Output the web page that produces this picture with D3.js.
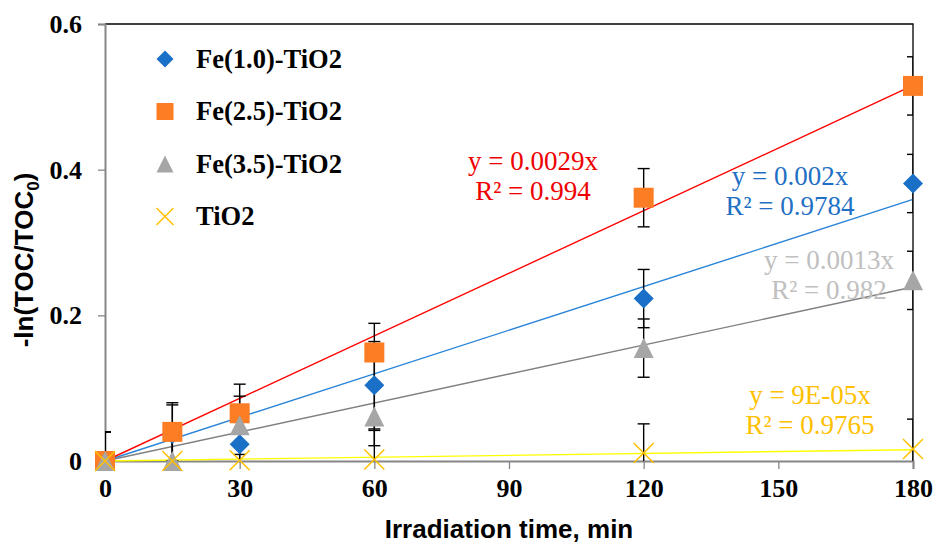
<!DOCTYPE html>
<html><head><meta charset="utf-8">
<script src="https://cdn.jsdelivr.net/npm/d3@7"></script>
<style>body{margin:0;background:#fff}svg{display:block}</style>
</head><body>
<svg id="chart" width="935" height="543"></svg>
<script>
// ---- data ----
const times = [0, 15, 30, 60, 120, 180];
const seriesNames = ["Fe(1.0)-TiO2", "Fe(2.5)-TiO2", "Fe(3.5)-TiO2", "TiO2"];
const fe10 = [0, 0.037, 0.023, 0.104, 0.223, 0.381];
const fe25 = [0, 0.040, 0.0655, 0.149, 0.3615, 0.515];
const fe35 = [0, 0.0, 0.049, 0.061, 0.155, 0.248];
const tio2 = [0, 0.0, 0.001, 0.002, 0.011, 0.0165];
const fe10Err = [0.04, 0.04, 0.04, 0.06, 0.04, 0.04];
const fe25Err = [0.04, 0.04, 0.04, 0.04, 0.04, 0.04];
const fe35Err = [0.04, 0.04, 0.04, 0.04, 0.04, 0.04];
const tio2Err = [0.04, 0.04, 0.04, 0.04, 0.04, 0.041];
const eqTexts = [["y = 0.002x", "R² = 0.9784"], ["y = 0.0029x", "R² = 0.994"], ["y = 0.0013x", "R² = 0.982"], ["y = 9E-05x", "R² = 0.9765"]];
const xTicks = [0, 30, 60, 90, 120, 150, 180];
const yTicks = [0, 0.2, 0.4, 0.6];

// ---- styles / layout ----
const styles = [
  {marker: "diamond", fill: "#1a6fc6", line: "#2a84d8", eq: "#1f70c4", eqX: 790, eqY: 185},
  {marker: "square", fill: "#fd7d25", line: "#ff0000", eq: "#ee0000", eqX: 533, eqY: 169.5},
  {marker: "triangle", fill: "#a6a6a6", line: "#808080", eq: "#c0c0c0", eqX: 829, eqY: 269},
  {marker: "cross", fill: "#ffc000", line: "#ffff00", eq: "#ffc000", eqX: 810, eqY: 404}
];
const values = [fe10, fe25, fe35, tio2];
const errs = [fe10Err, fe25Err, fe35Err, tio2Err];

const svg = d3.select("#chart");
const L = 105, R = 913, T = 24, B = 461;
const x = d3.scaleLinear().domain([0, 180]).range([L, R]);
const y = d3.scaleLinear().domain([0, 0.6]).range([B, T]);

const serif = "'Liberation Serif','Times New Roman',serif";
const sans = "'Liberation Sans',Arial,sans-serif";

svg.append("defs").append("clipPath").attr("id", "plotclip")
  .append("rect").attr("x", L).attr("y", T).attr("width", R - L).attr("height", B - T);

// plot border (top/right black)
svg.append("path").attr("d", `M${L},${T}H${R}V${B}`).attr("fill", "none").attr("stroke", "#000").attr("stroke-width", 1.3);

// axes
const gx = svg.append("g").attr("transform", `translate(0,${B})`)
  .call(d3.axisBottom(x).tickValues(xTicks).tickSize(8).tickPadding(22).tickFormat(d3.format("d")));
const gy = svg.append("g").attr("transform", `translate(${L},0)`)
  .call(d3.axisLeft(y).tickValues(yTicks).tickSize(7).tickPadding(16).tickFormat(d => d === 0 ? "0" : d3.format(".1f")(d)));
[gx, gy].forEach(g => {
  g.select(".domain").attr("stroke", "#868686").attr("stroke-width", 2);
  g.selectAll(".tick line").attr("stroke", "#868686").attr("stroke-width", 1.3);
  g.selectAll(".tick text").attr("fill", "#000").style("font-family", serif)
    .style("font-weight", "bold").style("font-size", "26px");
});
gy.selectAll(".tick text").attr("dy", "0.33em");
gx.selectAll(".tick text").attr("dy", "0.71em").attr("y", 18);

// trend lines (least squares through origin)
const slopes = values.map(v => d3.sum(v, (d, i) => d * times[i]) / d3.sum(times, t => t * t));
svg.append("g").selectAll("line").data(slopes).join("line")
  .attr("x1", x(0)).attr("y1", y(0)).attr("x2", x(180)).attr("y2", d => y(d * 180))
  .attr("stroke", (d, i) => styles[i].line).attr("stroke-width", 1.4);

// error bars
const eb = svg.append("g").attr("clip-path", "url(#plotclip)");
values.forEach((v, si) => {
  v.forEach((val, i) => {
    const e = errs[si][i];
    const cx = x(times[i]);
    eb.append("line").attr("x1", cx).attr("x2", cx).attr("y1", y(val - e)).attr("y2", y(val + e))
      .attr("stroke", "#000").attr("stroke-width", 1.4);
    [val - e, val + e].forEach(yy => {
      eb.append("line").attr("x1", cx - 6).attr("x2", cx + 6).attr("y1", y(yy)).attr("y2", y(yy))
        .attr("stroke", "#000").attr("stroke-width", 1.4);
    });
  });
});

function drawMarker(g, type, cx, cy, s, color) {
  const h = s / 2;
  if (type === "diamond") {
    g.append("path").attr("d", `M${cx},${cy - h}L${cx + h},${cy}L${cx},${cy + h}L${cx - h},${cy}Z`).attr("fill", color);
  } else if (type === "square") {
    g.append("rect").attr("x", cx - h).attr("y", cy - h).attr("width", s).attr("height", s).attr("fill", color);
  } else if (type === "triangle") {
    g.append("path").attr("d", `M${cx},${cy - h}L${cx + h},${cy + h}L${cx - h},${cy + h}Z`).attr("fill", color);
  } else {
    g.append("path").attr("d", `M${cx - h},${cy - h}L${cx + h},${cy + h}M${cx - h},${cy + h}L${cx + h},${cy - h}`)
      .attr("stroke", color).attr("stroke-width", 1.5).attr("fill", "none");
  }
}

const mk = svg.append("g");
values.forEach((v, si) => {
  v.forEach((val, i) => drawMarker(mk, styles[si].marker, x(times[i]), y(val), 20, styles[si].fill));
});

// equations
eqTexts.forEach((t, i) => {
  const tx = svg.append("text").attr("x", styles[i].eqX).attr("y", styles[i].eqY)
    .attr("text-anchor", "middle").attr("fill", styles[i].eq)
    .style("font-family", serif).style("font-size", "27px");
  tx.append("tspan").attr("x", styles[i].eqX).text(t[0]);
  tx.append("tspan").attr("x", styles[i].eqX).attr("dy", 30).text(t[1]);
});

// legend
const lg = svg.append("g");
seriesNames.forEach((n, i) => {
  const cy = 59 + i * 52.5;
  drawMarker(lg, styles[i].marker, 165, cy, 17, styles[i].fill);
  lg.append("text").attr("x", 196).attr("y", cy + 8.5).text(n)
    .style("font-family", serif).style("font-weight", "bold").style("font-size", "26.5px");
});

// axis titles
svg.append("text").attr("x", (L + R) / 2).attr("y", 538).attr("text-anchor", "middle")
  .style("font-family", sans).style("font-weight", "bold").style("font-size", "26px")
  .text("Irradiation time, min");
const yt = svg.append("text").attr("transform", "translate(33,260) rotate(-90)").attr("text-anchor", "middle")
  .style("font-family", sans).style("font-weight", "bold").style("font-size", "26px");
yt.append("tspan").text("-ln(TOC/TOC");
yt.append("tspan").attr("dy", 6).style("font-size", "17px").text("0");
yt.append("tspan").attr("dy", -6).text(")");
</script>
</body></html>
